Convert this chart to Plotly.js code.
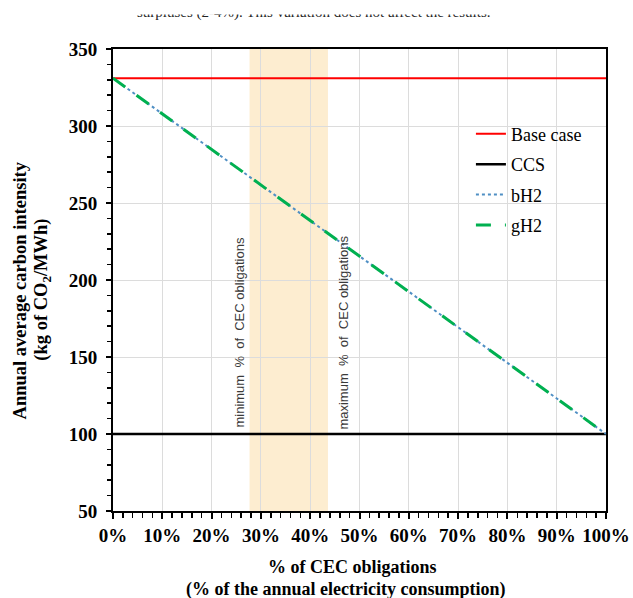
<!DOCTYPE html>
<html>
<head>
<meta charset="utf-8">
<script src="https://cdn.plot.ly/plotly-3.0.1.min.js"></script>
<style>html,body{margin:0;padding:0;background:#fff;}#chart{width:633px;height:598px;}</style>
</head>
<body>
<div id="chart"></div>
<script>
// Data
var cecShare = [0, 100];                 // % of CEC obligations
var baseCase = [331, 331];               // kg CO2/MWh
var ccs = [100, 100];
var bH2 = [331, 100];
var gH2 = [331, 100];
var bandRange = [27.7, 43.6];            // min / max % of CEC obligations
var xTicks = [0,10,20,30,40,50,60,70,80,90,100];
var xTickText = ['0%','10%','20%','30%','40%','50%','60%','70%','80%','90%','100%'];
var yTicks = [50,100,150,200,250,300,350];

var serif = 'Liberation Serif, Times New Roman, serif';
var tickFont = {family: serif, size: 19, color: '#000', weight: 'bold'};

var traces = [
  {x: cecShare, y: baseCase, name: 'Base case', mode: 'lines', line: {color: '#ff0000', width: 2}, legendgroup: 'a'},
  {x: cecShare, y: ccs, name: 'CCS', mode: 'lines', line: {color: '#000000', width: 2.5}, legendgroup: 'b'},
  {x: cecShare, y: bH2, name: 'bH2', mode: 'lines', line: {color: '#4f8fc4', width: 2, dash: 'dot'}, legendgroup: 'c'},
  {x: cecShare, y: gH2, name: 'gH2', mode: 'lines', line: {color: '#00b050', width: 3, dash: '15px,14px'}, legendgroup: 'd'}
];

var layout = {
  width: 633, height: 598,
  margin: {l: 113, r: 27, t: 49, b: 87},
  paper_bgcolor: '#fff', plot_bgcolor: '#fff',
  showlegend: true,
  legend: {x: 0.726, y: 0.856, xanchor: 'left', yanchor: 'top', bgcolor: 'rgba(0,0,0,0)',
           font: {family: serif, size: 18, color: '#000'}, tracegroupgap: 4},
  xaxis: {range: [0, 100], tickvals: xTicks, ticktext: xTickText, showgrid: true, gridcolor: '#dcdcdc', gridwidth: 1,
          showline: true, linecolor: '#000', linewidth: 2, mirror: true, ticks: 'outside', ticklen: 6, tickwidth: 2, tickcolor: '#000',
          minor: {dtick: 2, ticks: 'outside', ticklen: 5, tickwidth: 1.5, tickcolor: '#000', showgrid: false},
          tickfont: tickFont, zeroline: false, fixedrange: true},
  xaxis2: {range: [0, 100], overlaying: 'x', anchor: 'y', side: 'bottom', tickvals: xTicks, showticklabels: false,
           ticks: 'inside', ticklen: 6, tickwidth: 2, tickcolor: '#000', showgrid: false, showline: false, zeroline: false},
  yaxis: {range: [50, 350], tickvals: yTicks, showgrid: true, gridcolor: '#dcdcdc', gridwidth: 1,
          showline: true, linecolor: '#000', linewidth: 2, mirror: true, ticks: 'outside', ticklen: 5, tickwidth: 1.5, tickcolor: '#000',
          minor: {dtick: 10, ticks: 'outside', ticklen: 4, tickwidth: 1.5, tickcolor: '#000', showgrid: false},
          tickfont: tickFont, ticklabelstandoff: 5, zeroline: false, fixedrange: true},
  shapes: [
    {type: 'rect', xref: 'x', yref: 'paper', x0: bandRange[0], x1: bandRange[1], y0: 0, y1: 1,
     fillcolor: '#fdedd0', line: {width: 0}, layer: 'below'}
  ],
  annotations: [
    {text: 'surpluses (2-4%). This variation does not affect the results.', xref: 'paper', yref: 'paper',
     x: 0.407, y: 1.080, xanchor: 'center', yanchor: 'middle', showarrow: false,
     font: {family: serif, size: 15, color: '#222'}},
    {text: '&nbsp;', xref: 'paper', yref: 'paper', x: 0.413, y: 1.107, xanchor: 'center', yanchor: 'top', showarrow: false,
     width: 640, height: 13, bgcolor: '#ffffff', borderpad: 0, font: {size: 10}},
    {text: 'minimum&nbsp; %&nbsp; of&nbsp; CEC obligations', xref: 'x', yref: 'y', x: 25.6, y: 166, textangle: -90,
     showarrow: false, xanchor: 'center', yanchor: 'middle', font: {family: 'Liberation Sans, Arial, sans-serif', size: 13, color: '#3a3a3a'}},
    {text: 'maximum&nbsp; %&nbsp; of&nbsp; CEC obligations', xref: 'x', yref: 'y', x: 46.7, y: 166, textangle: -90,
     showarrow: false, xanchor: 'center', yanchor: 'middle', font: {family: 'Liberation Sans, Arial, sans-serif', size: 13, color: '#3a3a3a'}},
    {text: '<b>Annual average carbon intensity</b>', xref: 'paper', yref: 'paper', x: -0.188, y: 0.478, textangle: -90,
     showarrow: false, xanchor: 'center', yanchor: 'middle', font: {family: serif, size: 18.5, color: '#000'}},
    {text: '<b>(kg of CO<sub>2</sub>/MWh)</b>', xref: 'paper', yref: 'paper', x: -0.143, y: 0.478, textangle: -90,
     showarrow: false, xanchor: 'center', yanchor: 'middle', font: {family: serif, size: 18.5, color: '#000'}},
    {text: '<b>% of CEC obligations</b>', xref: 'paper', yref: 'paper', x: 0.485, y: -0.122,
     showarrow: false, xanchor: 'center', yanchor: 'middle', font: {family: serif, size: 18, color: '#000'}},
    {text: '<b>(% of the annual electricity consumption)</b>', xref: 'paper', yref: 'paper', x: 0.471, y: -0.170,
     showarrow: false, xanchor: 'center', yanchor: 'middle', font: {family: serif, size: 18, color: '#000'}}
  ]
};

Plotly.newPlot('chart', traces, layout, {staticPlot: true, displayModeBar: false});
</script>
</body>
</html>
